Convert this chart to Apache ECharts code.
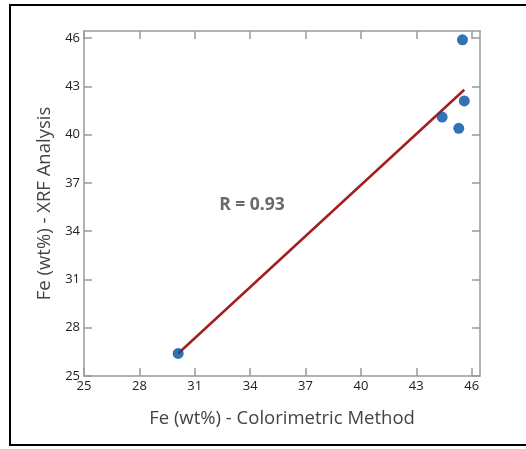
<!DOCTYPE html>
<html>
<head>
<meta charset="utf-8">
<script src="https://cdn.jsdelivr.net/npm/echarts@6/dist/echarts.min.js"></script>
<style>
    html, body { margin: 0; padding: 0; background: #fff; }
    #chart { width: 526px; height: 449px; }
</style>
</head>
<body>
<div id="chart"></div>
<script>
// measured points (colorimetric, XRF)
const points = [
    [30.1, 26.4],
    [45.5, 45.9],
    [45.6, 42.1],
    [44.4, 41.1],
    [45.3, 40.4]
]
// fit line end points
const fitLine = [
    [30.1, 26.4],
    [45.6, 42.8]
]
const tickValues = [25, 28, 31, 34, 37, 40, 43, 46]
const rLabel = 'R = 0.93'
const rLabelAt = [34.1, 35.6]

const xName = 'Fe (wt%) - Colorimetric Method'
const yName = 'Fe (wt%) - XRF Analysis'

const axisGray = '#9a9a9a'
const fontFamily = 'Open Sans'

function boxAxis(opts) {
    return Object.assign({
        type: 'value',
        min: 25,
        max: 46.45,
        interval: 3,
        axisLine: { show: true, lineStyle: { color: axisGray, width: 1.5 } },
        axisTick: {
            show: true,
            inside: true,
            length: 8,
            customValues: tickValues,
            lineStyle: { color: axisGray, width: 1.5 }
        },
        splitLine: { show: false }
    }, opts)
}

const labelStyle = {
    customValues: tickValues,
    color: '#222',
    fontSize: 13,
    fontFamily: fontFamily
}

const nameStyle = { color: '#444', fontSize: 18.5, fontFamily: fontFamily }

const myChart = echarts.init(document.getElementById('chart'))
const option = {
    animation: false,
    backgroundColor: '#fff',
    graphic: [{
        type: 'rect',
        shape: { x: 10, y: 5, width: 530, height: 440 },
        style: { fill: 'none', stroke: '#000', lineWidth: 2 },
        z: 100
    }],
    grid: { left: 84, top: 31, right: 46, bottom: 73 },
    xAxis: [
        boxAxis({
            position: 'bottom',
            name: xName,
            nameLocation: 'middle',
            nameGap: 33,
            nameTextStyle: nameStyle,
            axisLabel: Object.assign({ margin: 4 }, labelStyle)
        }),
        boxAxis({ position: 'top', axisLabel: { show: false } })
    ],
    yAxis: [
        boxAxis({
            position: 'left',
            name: yName,
            nameLocation: 'middle',
            nameGap: 30,
            nameTextStyle: nameStyle,
            axisLabel: Object.assign({ margin: 4 }, labelStyle)
        }),
        boxAxis({ position: 'right', axisLabel: { show: false } })
    ],
    series: [
        {
            type: 'line',
            data: fitLine,
            symbol: 'none',
            lineStyle: { color: '#a31f1f', width: 2.5 },
            z: 2
        },
        {
            type: 'scatter',
            data: points,
            symbol: 'circle',
            symbolSize: 11,
            itemStyle: { color: '#0050a0' },
            z: 3
        },
        {
            type: 'scatter',
            data: [rLabelAt],
            symbolSize: 0,
            label: {
                show: true,
                position: 'inside',
                formatter: rLabel,
                color: '#444',
                fontSize: 17.5,
                fontWeight: 'bold',
                fontFamily: fontFamily
            },
            z: 4
        }
    ]
}
myChart.setOption(option)
</script>
</body>
</html>
